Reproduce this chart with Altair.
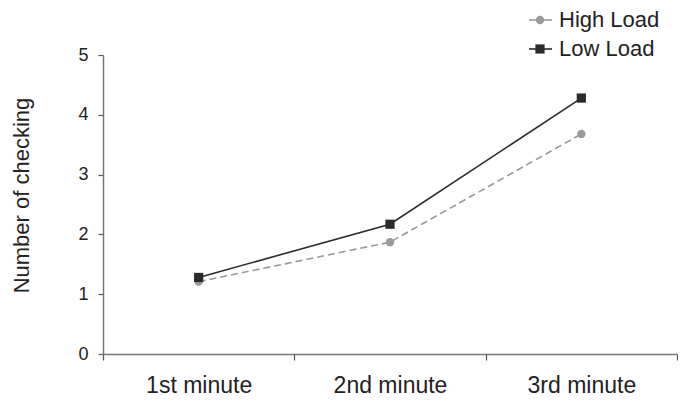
import altair as alt
import pandas as pd

categories = ["1st minute", "2nd minute", "3rd minute"]
series_names = ["High Load", "Low Load"]
high_load = [1.21, 1.87, 3.68]
low_load = [1.28, 2.17, 4.28]
y_ticks = [0, 1, 2, 3, 4, 5]

colors = {"High Load": "#9a9a9a", "Low Load": "#2b2b2b"}

rows = []
for c, v in zip(categories, high_load):
    rows.append({"minute": c, "value": v, "series": "High Load"})
for c, v in zip(categories, low_load):
    rows.append({"minute": c, "value": v, "series": "Low Load"})
df = pd.DataFrame(rows)

FONT = "Liberation Sans"

x_enc = alt.X("minute:N", sort=categories,
              scale=alt.Scale(paddingInner=0, paddingOuter=0),
              axis=alt.Axis(title=None, labelAngle=0, tickBand="extent",
                            tickSize=6, labelPadding=14, labelFontSize=23,
                            labelFont=FONT, labelColor="#222222",
                            domainColor="#777777", tickColor="#555555",
                            domainWidth=1.5, tickWidth=1.2))
y_enc = alt.Y("value:Q", scale=alt.Scale(domain=[0, 5], nice=False),
              axis=alt.Axis(title="Number of checking", values=y_ticks,
                            grid=False, tickSize=5, labelPadding=10,
                            labelFontSize=18, labelFont=FONT,
                            labelColor="#222222", titleFont=FONT,
                            titleFontSize=22, titleFontWeight="normal",
                            titleColor="#222222", titlePadding=44, titleY=140,
                            domainColor="#777777", tickColor="#555555",
                            domainWidth=1.5, tickWidth=1.2))

high_df = df[df.series == "High Load"]
low_df = df[df.series == "Low Load"]

high_line = alt.Chart(high_df).mark_line(color=colors["High Load"], strokeWidth=1.6,
                                         strokeDash=[7, 4]).encode(x=x_enc, y=y_enc)
high_pts = alt.Chart(high_df).mark_point(shape="circle", filled=True, opacity=1,
                                         size=70, color=colors["High Load"]).encode(x=x_enc, y=y_enc)
low_line = alt.Chart(low_df).mark_line(color=colors["Low Load"], strokeWidth=1.6).encode(x=x_enc, y=y_enc)
low_pts = alt.Chart(low_df).mark_point(shape="square", filled=True, opacity=1,
                                       size=85, color=colors["Low Load"]).encode(x=x_enc, y=y_enc)

# manual legend
legend_layers = []
legend_y = [-35, -6]
for name, ly in zip(series_names, legend_y):
    ldf = pd.DataFrame({"label": [name]})
    legend_layers.append(
        alt.Chart(ldf).mark_rule(color=colors[name], strokeWidth=1.6).encode(
            x=alt.value(426), x2=alt.value(449), y=alt.value(ly)))
    legend_layers.append(
        alt.Chart(ldf).mark_point(shape="circle" if name == "High Load" else "square",
                                  filled=True, opacity=1, size=70 if name == "High Load" else 85,
                                  color=colors[name]).encode(
            x=alt.value(437), y=alt.value(ly)))
    legend_layers.append(
        alt.Chart(ldf).mark_text(align="left", baseline="middle", fontSize=22,
                                 font=FONT, color="#222222").encode(
            x=alt.value(456), y=alt.value(ly), text="label:N"))

chart = alt.layer(high_line, low_line, high_pts, low_pts, *legend_layers).properties(
    width=574, height=299,
    autosize=alt.AutoSizeParams(type="none"),
    padding={"left": 95, "top": 47, "right": 1, "bottom": 47},
    background="white",
).configure_view(stroke=None)

chart.save("out.html", embed_options={"renderer": "svg", "actions": False})
